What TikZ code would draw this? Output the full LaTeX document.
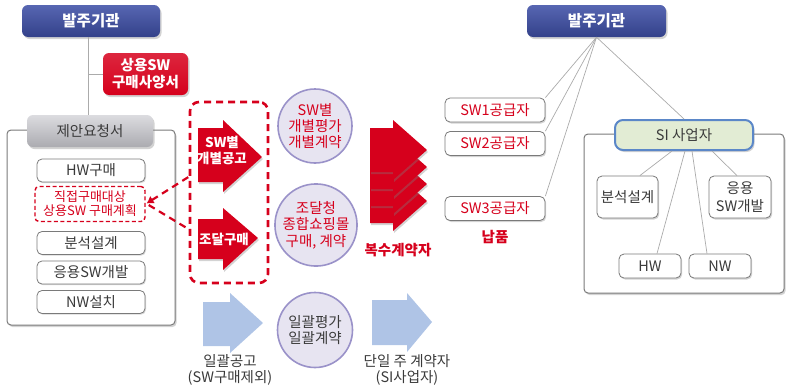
\documentclass[tikz,border=0pt]{standalone}
\usepackage{fontspec}
\setmainfont{Noto Sans CJK KR}
\usetikzlibrary{shadows,arrows.meta,calc}
\definecolor{navyT}{HTML}{5766B2}
\definecolor{navyB}{HTML}{33418A}
\definecolor{red1}{HTML}{D6001C}
\definecolor{txt}{HTML}{3A3A3A}
\definecolor{lgray}{HTML}{ABABAB}
\definecolor{bgray}{HTML}{7A7A7A}
\definecolor{tabT}{HTML}{DCDCE0}
\definecolor{tabB}{HTML}{ABABB0}
\definecolor{circfill}{HTML}{E7E4F1}
\definecolor{circline}{HTML}{9A92C9}
\definecolor{lblue}{HTML}{AFC4E6}
\definecolor{sifill}{HTML}{E2ECD4}
\definecolor{siline}{HTML}{5B87C8}
\tikzset{
  shd/.style={drop shadow={shadow xshift=1.5pt,shadow yshift=-2pt,opacity=0.35}},
  hdr/.style={rectangle,rounded corners=6pt,top color=navyT,bottom color=navyB,
    text=white,font=\fontsize{15.5}{17}\selectfont\bfseries,
    minimum width=138pt,minimum height=32pt,inner sep=0pt,shd},
  redbox/.style={rectangle,rounded corners=6pt,top color=red1!85!white,bottom color=red1,
    text=white,font=\fontsize{14.5}{17}\selectfont\bfseries,align=center,
    minimum width=85pt,minimum height=42pt,inner sep=0pt,shd},
  tabbox/.style={rectangle,rounded corners=6pt,top color=tabT,bottom color=tabB,
    text=txt,font=\fontsize{14.5}{16}\selectfont,
    minimum width=126pt,minimum height=32pt,inner sep=0pt,shd},
  container/.style={rectangle,rounded corners=4pt,draw=bgray,line width=1pt,fill=white,
    inner sep=0pt,shd},
  itembox/.style={rectangle,rounded corners=5pt,draw=bgray,line width=0.8pt,fill=white,
    text=txt,font=\fontsize{14.5}{16}\selectfont,align=center,
    minimum width=108pt,minimum height=23pt,inner sep=0pt,
    drop shadow={shadow xshift=1pt,shadow yshift=-1.2pt,opacity=0.3}},
  directbox/.style={rectangle,rounded corners=4pt,draw=red1,line width=1.4pt,
    dash pattern=on 4pt off 2.5pt,text=red1,font=\fontsize{13}{14}\selectfont,
    align=center,minimum width=110pt,minimum height=35pt,inner sep=0pt},
  rdash/.style={draw=red1,line width=2.6pt,dash pattern=on 7pt off 5pt},
  rarrow/.style={fill=red1,drop shadow={shadow xshift=1pt,shadow yshift=-2pt,opacity=0.35}},
  arrtxt/.style={text=white,font=\fontsize{13.5}{16}\selectfont\bfseries,align=center,inner sep=0pt},
  circ/.style={circle,fill=circfill,draw=circline,line width=1.6pt,inner sep=0pt,
    align=center,font=\fontsize{14.5}{16}\selectfont},
  barrow/.style={fill=lblue},
  lbl/.style={text=txt,font=\fontsize{14.5}{16.5}\selectfont,align=center,inner sep=0pt},
  rlbl/.style={text=red1,font=\fontsize{14.5}{16}\selectfont\bfseries,align=center,inner sep=0pt},
  swbox/.style={rectangle,rounded corners=5pt,draw=bgray,line width=0.8pt,fill=white,
    text=red1,font=\fontsize{14.5}{16}\selectfont,
    minimum width=100pt,minimum height=24pt,inner sep=0pt,
    drop shadow={shadow xshift=1.2pt,shadow yshift=-1.5pt,opacity=0.35}},
  sibox/.style={rectangle,rounded corners=8pt,draw=siline,line width=2pt,fill=sifill,
    text=txt,font=\fontsize{14.5}{16}\selectfont,
    minimum width=138pt,minimum height=30pt,inner sep=0pt,shd},
  subbox/.style={rectangle,rounded corners=5pt,draw=bgray,line width=0.8pt,fill=white,
    text=txt,font=\fontsize{14.5}{16}\selectfont,align=center,inner sep=0pt,
    drop shadow={shadow xshift=1.2pt,shadow yshift=-1.5pt,opacity=0.35}},
  gline/.style={draw=lgray,line width=0.7pt}
}
\begin{document}
\begin{tikzpicture}[x=1pt,y=-1pt]
\useasboundingbox (0,0) rectangle (791,388);

% ---------------- left part ----------------
\node[hdr] (hq1) at (91,21) {발주기관};
\node[redbox] (spec) at (145.5,74) {상용SW\\구매사양서};
\node[container,minimum width=168pt,minimum height=195pt] (lcont) at (91,227.5) {};
\node[tabbox] (tab) at (90,131) {제안요청서};
\coordinate (j) at (88,74);
\draw[gline] (hq1.south -| j) -- (tab.north -| j);
\draw[gline] (j) -- (spec.west);

\node[itembox] (hw) at (91,170.5) {HW구매};
\node[directbox] (direct) at (90,204) {직접구매대상\\상용SW 구매계획};
\node[itembox] (an) at (91,243) {분석설계};
\node[itembox] (ap) at (91,272.5) {응용SW개발};
\node[itembox] (nw) at (91,302) {NW설치};

% dashed group box
\node[rectangle,rounded corners=9pt,rdash,minimum width=78pt,minimum height=181pt,inner sep=0pt] (dbox) at (229,192.5) {};
\coordinate (du) at (190,176);
\coordinate (dl) at (190,230);
\draw[rdash,line width=2.2pt,{Latex[length=7pt,width=9pt]}-,shorten <=1pt] (direct.east) -- (du);
\draw[rdash,line width=2.2pt] (direct.east) ++(3,1) -- (dl);

% red arrows inside
\path[rarrow] (198,128) -- (223,128) -- (223,120) -- (262,157) -- (223,192) -- (223,182) -- (198,182) -- cycle;
\node[arrtxt] (a1) at (222,150) {SW별\\개별공고};
\path[rarrow] (198,219) -- (223,219) -- (223,208) -- (258,238) -- (223,270) -- (223,259) -- (198,259) -- cycle;
\node[arrtxt] (a2) at (224,239) {조달구매};

% circles
\node[circ,minimum size=74pt,text=red1] (c1) at (315,126) {SW별\\개별평가\\개별계약};
\node[circ,minimum size=77pt,text=red1,font=\fontsize{14.5}{16.5}\selectfont] (c2) at (316,225) {조달청\\종합쇼핑몰\\구매, 계약};
\node[circ,minimum size=75pt,text=txt] (c3) at (315,330) {일괄평가\\일괄계약};

% stacked red arrows
\foreach \k in {3,2,1,0}{
  \pgfmathsetmacro\ty{150+17*\k}
  \path[rarrow] (370,\ty-22) -- (393,\ty-22) -- (393,\ty-30) -- (427,\ty) -- (393,\ty+30) -- (393,\ty+22) -- (370,\ty+22) -- cycle;
}
\node[rlbl] (multi) at (398,250) {복수계약자};

% blue arrows
\path[barrow] (203,302) -- (230,302) -- (230,293) -- (263,323) -- (230,353) -- (230,346) -- (203,346) -- cycle;
\node[lbl] (bl1) at (230,370) {일괄공고\\(SW구매제외)};
\path[barrow] (372,300) -- (407,300) -- (407,293) -- (432,322) -- (407,352) -- (407,345) -- (372,345) -- cycle;
\node[lbl] (bl2) at (407,370) {단일 주 계약자\\(SI사업자)};

% ---------------- right part ----------------
\node[hdr,minimum width=139pt] (hq2) at (596.5,21) {발주기관};
\node[swbox] (sw1) at (495,110) {SW1공급자};
\node[swbox] (sw2) at (495,143.5) {SW2공급자};
\node[swbox] (sw3) at (495,208.5) {SW3공급자};
\node[rlbl] (nap) at (495,237) {납품};

\node[container,minimum width=200pt,minimum height=159pt] (sicont) at (684,213.5) {};
\node[sibox] (si) at (684,135) {SI 사업자};
\node[subbox,minimum width=61pt,minimum height=42pt] (ran) at (627.5,197) {분석설계};
\node[subbox,minimum width=62pt,minimum height=42pt,font=\fontsize{14.5}{18}\selectfont] (rap) at (740,197) {응용\\SW개발};
\node[subbox,minimum width=62pt,minimum height=24pt] (rhw) at (650,266) {HW};
\node[subbox,minimum width=62pt,minimum height=24pt] (rnw) at (720,266) {NW};

\draw[gline] (hq2.south) -- (sw1.north east);
\draw[gline] (hq2.south) -- (sw2.north east);
\draw[gline] (hq2.south) -- (sw3.north east);
\draw[gline] (hq2.south) -- (si.north);

\draw[gline] ($(si.south)+(-12,0)$) -- (ran.60);
\draw[gline] ($(si.south)+(28,0)$) -- ($(rap.north)+(-3,0)$);
\draw[gline] ($(si.south)+(1,0)$) -- ($(rhw.north)+(7,0)$);
\draw[gline] ($(si.south)+(8,0)$) -- ($(rnw.north)+(-13,0)$);
\end{tikzpicture}
\end{document}
